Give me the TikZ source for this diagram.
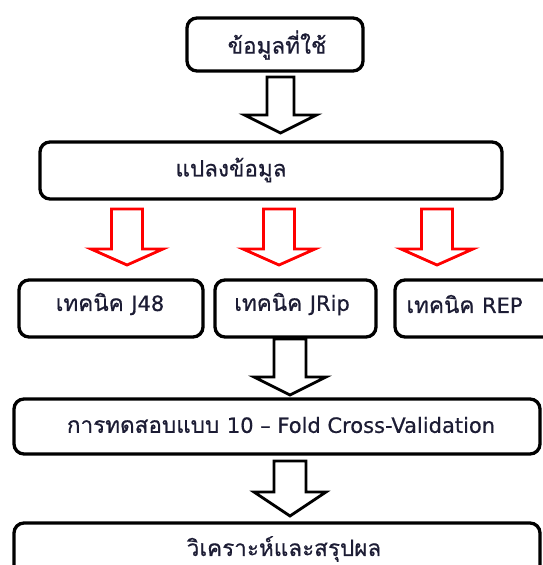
\documentclass[tikz,border=0pt]{standalone}
\usepackage{fontspec}
\usetikzlibrary{calc}
\newfontfamily\thaifont[Script=Thai,FakeBold=0.6]{Loma}
\newfontfamily\latfont[FakeBold=0.6]{DejaVu Sans}
\definecolor{inkcol}{RGB}{28,28,52}
\definecolor{arrowred}{RGB}{255,0,0}
\tikzset{
  stepbox/.style={draw=black, line width=3.3pt, rounded corners=10pt, inner sep=0pt},
  label/.style={text=inkcol, font=\thaifont\fontsize{22.5}{26}\selectfont, inner sep=0pt},
  hollowblack/.style={draw=black, line width=2.8pt, fill=white, line join=miter},
  hollowred/.style={draw=arrowred, line width=2.8pt, fill=white, line join=miter},
}
\newcommand\lat[1]{{\latfont\fontsize{21}{24}\selectfont #1}}
% hollow block arrow: style, start coordinate, tip coordinate, head length, shaft half-width
\newcommand\blockarrow[5]{%
  \draw[#1] ($(#2)+(-#5,0)$) -- ($(#2|-#3)+(-#5,-#4)$) -- ($(#2|-#3)+(-36,-#4)$)
    -- (#2|-#3) -- ($(#2|-#3)+(36,-#4)$) -- ($(#2|-#3)+(#5,-#4)$)
    -- ($(#2)+(#5,0)$) -- cycle;}
\begin{document}
\begin{tikzpicture}[x=1pt,y=-1pt]
  \useasboundingbox (0,0) rectangle (543,565);
  \clip (0,0) rectangle (543,565);

  % process boxes
  \node[stepbox, minimum width=176pt, minimum height=53pt] (data) at (275,44.5) {};
  \node[stepbox, minimum width=462pt, minimum height=57pt] (transform) at (271,170.5) {};
  \node[stepbox, minimum width=184pt, minimum height=57pt] (jfe) at (111,308.5) {};
  \node[stepbox, minimum width=161pt, minimum height=57pt] (jrip) at (295.5,308.5) {};
  \node[stepbox, minimum width=185pt, minimum height=57pt] (rep) at (487.5,308.5) {};
  \node[stepbox, minimum width=526pt, minimum height=55pt] (cv) at (277,426.5) {};
  \node[stepbox, minimum width=526pt, minimum height=56pt] (result) at (277,551) {};

  % box texts
  \node[label] (tdata) at (277,45) {ข้อมูลที่ใช้};
  \node[label] (ttransform) at (231,170) {แปลงข้อมูล};
  \node[label] (tjfe) at (110,304) {เทคนิค \lat{J48}};
  \node[label] (tjrip) at (292,304) {เทคนิค \lat{JRip}};
  \node[label] (trep) at (464.5,304) {เทคนิค \lat{REP}};
  \node[label] (tcv) at (281,425) {การทดสอบแบบ \lat{10 – Fold Cross-Validation}};
  \node[label] (tresult) at (284,549) {วิเคราะห์และสรุปผล};

  % arrow end points
  \coordinate (a1s) at (280.5,77);  \coordinate (a1e) at (280.5,133);
  \coordinate (r1s) at (127,209);   \coordinate (r1e) at (127,265);
  \coordinate (r2s) at (279,209);   \coordinate (r2e) at (279,265);
  \coordinate (r3s) at (437,209);   \coordinate (r3e) at (437,265);
  \coordinate (a4s) at (290,339);   \coordinate (a4e) at (290,395);
  \coordinate (a5s) at (290,461);   \coordinate (a5e) at (290,516);

  % connectors
  \blockarrow{hollowblack}{a1s}{a1e}{18}{13.5}
  \blockarrow{hollowred}{r1s}{r1e}{16}{15.5}
  \blockarrow{hollowred}{r2s}{r2e}{16}{15.5}
  \blockarrow{hollowred}{r3s}{r3e}{16}{15.5}
  \blockarrow{hollowblack}{a4s}{a4e}{18}{16}
  \blockarrow{hollowblack}{a5s}{a5e}{24}{16}
\end{tikzpicture}
\end{document}
